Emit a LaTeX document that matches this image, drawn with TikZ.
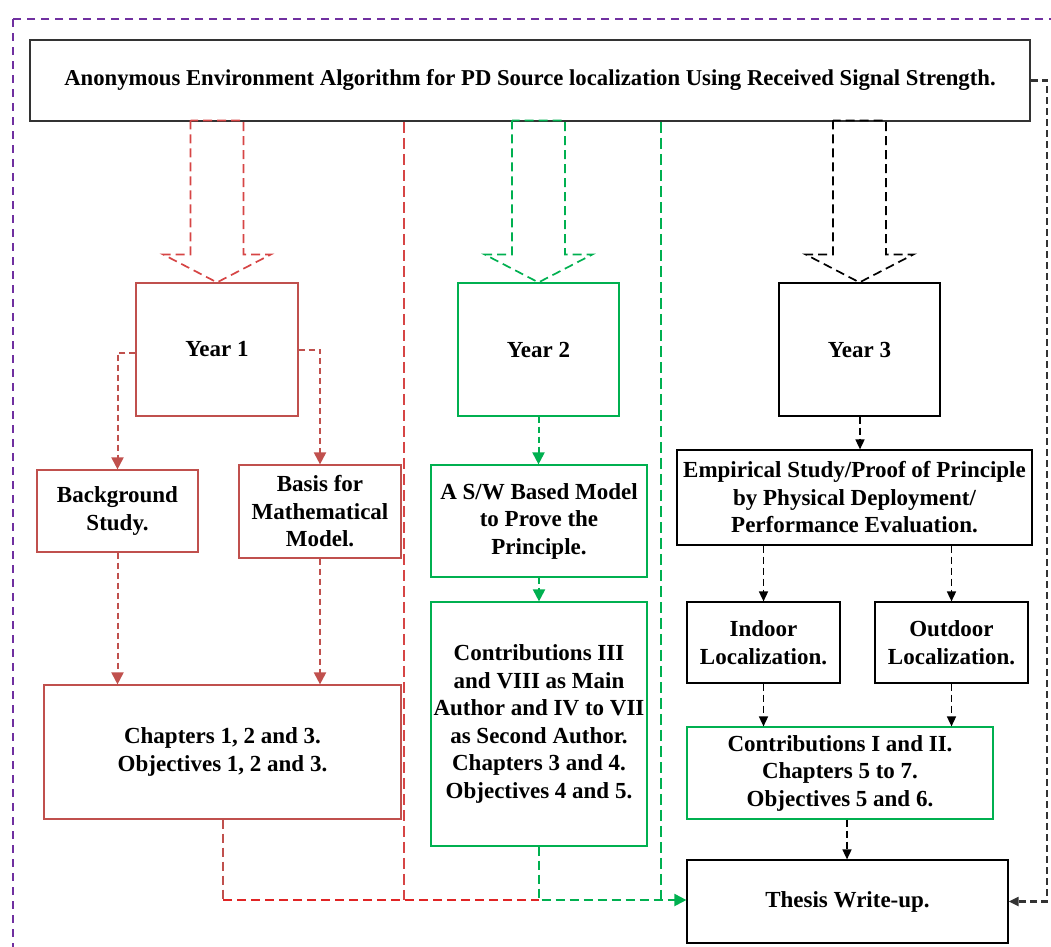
\documentclass[tikz,border=0pt]{standalone}
\usepackage{fontspec}
\setmainfont{Liberation Serif}
\usetikzlibrary{arrows.meta,calc}

\definecolor{boxred}{HTML}{C0504D}
\definecolor{brightred}{HTML}{E02424}
\definecolor{linered}{HTML}{D64545}
\definecolor{boxgreen}{HTML}{00B050}
\definecolor{framepurple}{HTML}{7030A0}
\definecolor{titlegray}{HTML}{333333}

\tikzset{
  x=1pt, y=-1pt,
  box/.style={draw, line width=1.2pt, inner sep=0pt, align=center,
    font=\bfseries\fontsize{23}{27.5}\selectfont},
  redbox/.style={box, draw=boxred},
  greenbox/.style={box, draw=boxgreen},
  blackbox/.style={box, draw=black},
  hollow/.style={line width=1.7pt, dash pattern=on 9pt off 5pt, line join=miter},
  longline/.style={line width=1.9pt, dash pattern=on 11pt off 5pt},
  redflow/.style={line width=2pt, dash pattern=on 6pt off 4pt,
    -{Triangle[width=12pt,length=12pt]}, color=boxred},
  greenflow/.style={line width=2pt, dash pattern=on 6pt off 4pt,
    -{Triangle[width=12pt,length=12pt]}, color=boxgreen},
  blackflow/.style={line width=1.6pt, dash pattern=on 7pt off 4pt,
    -{Triangle[width=9pt,length=10pt]}, color=black},
}

\begin{document}
\begin{tikzpicture}
\useasboundingbox (0,0) rectangle (1051,946);

% outer purple dashed frame (runs off the right and bottom edges)
\begin{scope}
  \clip (0,0) rectangle (1051,946);
  \draw[framepurple, line width=2pt, dash pattern=on 8pt off 6pt] (13,19) rectangle (1090,990);
\end{scope}

% title
\node[box, draw=titlegray, line width=1.6pt, minimum width=1000pt, minimum height=81pt,
      font=\bfseries\fontsize{22.7}{27}\selectfont] (title) at (530,80.5)
  {Anonymous Environment Algorithm for PD Source localization Using Received Signal Strength.};

% year boxes
\node[redbox,   minimum width=162pt, minimum height=133pt] (y1) at (217,349.5) {Year 1};
\node[greenbox, minimum width=161pt, minimum height=133pt] (y2) at (538.5,349.5) {Year 2};
\node[blackbox, minimum width=161pt, minimum height=133pt] (y3) at (859.5,349.5) {Year 3};

% year 1 branch
\node[redbox, minimum width=161pt, minimum height=82pt] (bg) at (117.5,511) {Background\\Study.};
\node[redbox, minimum width=162pt, minimum height=93pt] (basis) at (320,511.5) {Basis for\\Mathematical\\Model.};
\node[redbox, minimum width=357pt, minimum height=134pt] (chap) at (222.5,752)
  {Chapters 1, 2 and 3.\\Objectives 1, 2 and 3.};

% year 2 branch
\node[greenbox, minimum width=216pt, minimum height=112pt] (sw) at (539,521) {A S/W Based Model\\to Prove the\\Principle.};
\node[greenbox, minimum width=216pt, minimum height=244pt] (c3) at (539,724)
  {Contributions III\\and VIII as Main\\Author and IV to VII\\as Second Author.\\Chapters 3 and 4.\\Objectives 4 and 5.};

% year 3 branch
\node[blackbox, minimum width=355pt, minimum height=95pt] (emp) at (854.5,497.5)
  {Empirical Study/Proof of Principle\\by Physical Deployment/\\Performance Evaluation.};
\node[blackbox, minimum width=153pt, minimum height=81pt] (indoor) at (763.5,642.5) {Indoor\\Localization.};
\node[blackbox, minimum width=153pt, minimum height=81pt] (outdoor) at (951.5,642.5) {Outdoor\\Localization.};
\node[greenbox, minimum width=306pt, minimum height=92pt] (c12) at (840,773)
  {Contributions I and II.\\Chapters 5 to 7.\\Objectives 5 and 6.};
\node[blackbox, minimum width=321pt, minimum height=83pt] (thesis) at (847.5,901.5) {Thesis Write-up.};

% hollow dashed block arrows from the title to each year
\foreach \yr/\col in {y1/linered, y2/boxgreen, y3/black}{
  \begin{scope}[shift={(\yr.north)}]
    \draw[hollow, draw=\col] (-26.5,-162) -- (-26.5,-28) -- (-54,-28) -- (0,0)
      -- (54,-28) -- (26.5,-28) -- (26.5,-162) -- cycle;
  \end{scope}
}

% long dashed guide lines
\coordinate (rtop) at (404,0);
\coordinate (gtop) at (661,0);
\coordinate (rr) at (1047,0);
\coordinate (tin) at ([yshift=1.5pt]thesis.west);
\coordinate (j) at (c3.south |- tin);
\coordinate (cdrop) at ([xshift=0.5pt]chap.south);
\coordinate (y3out) at ([xshift=0.5pt]y3.south);
\coordinate (thin) at ([xshift=-0.5pt]thesis.north);
\draw[longline, linered] (title.south -| rtop) -- (j -| rtop);
\draw[longline, boxgreen] (title.south -| gtop) -- (j -| gtop);

% year 1 flows
\draw[redflow] ([yshift=-3pt]y1.west) -| (bg.north);
\draw[redflow] (y1.east) -| (basis.north);
\draw[redflow] (bg.south) -- (bg.south |- chap.north);
\draw[redflow] (basis.south) -- (basis.south |- chap.north);
\draw[longline, boxred, line width=2pt, dash pattern=on 9pt off 5pt] (cdrop) -- (cdrop |- j);
\draw[longline, brightred, line width=2pt, dash pattern=on 9pt off 5pt] (cdrop |- j) -- (j);

% year 2 flows
\draw[greenflow] (y2.south) -- (y2.south |- sw.north);
\draw[greenflow] (sw.south) -- (c3.north);
\draw[greenflow, dash pattern=on 9pt off 5pt] (c3.south) -- (j) -- (tin);

% year 3 flows
\draw[blackflow] (y3out) -- (y3out |- emp.north);
\draw[blackflow] (indoor.north |- emp.south) -- (indoor.north);
\draw[blackflow] (outdoor.north |- emp.south) -- (outdoor.north);
\draw[blackflow] (indoor.south) -- (indoor.south |- c12.north);
\draw[blackflow] (outdoor.south) -- (outdoor.south |- c12.north);
\draw[blackflow] (thin |- c12.south) -- (thin);

% feedback from the title to the thesis
\draw[blackflow, line width=2.1pt, color=titlegray] (title.east) -- (title.east -| rr) |- (thesis.east);
\end{tikzpicture}
\end{document}
